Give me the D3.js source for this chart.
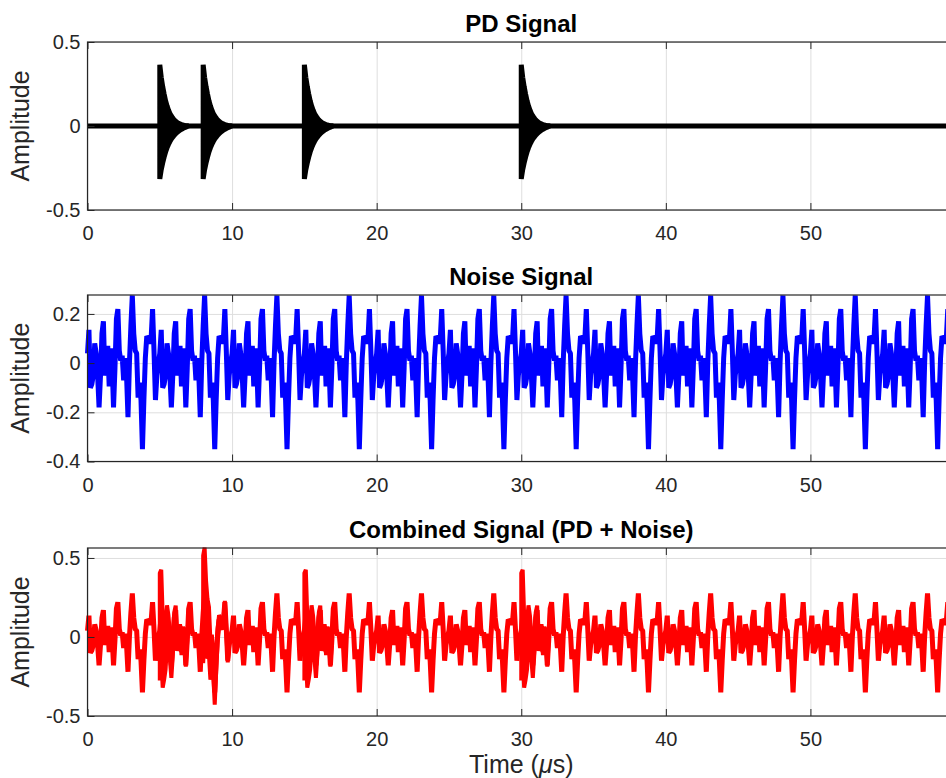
<!doctype html>
<html>
<head>
<script src="https://cdnjs.cloudflare.com/ajax/libs/d3/7.8.5/d3.min.js"></script>
<style>
  body { margin: 0; background: #ffffff; }
  text { font-family: "Liberation Sans", Arial, sans-serif; fill: #262626; }
  .axis text { font-size: 20px; fill: #262626; }
  .axis line { stroke: #262626; stroke-width: 1px; }
  .axis path { display: none; }
  .grid line { stroke: #dedede; stroke-width: 1px; }
  .grid path { display: none; }
  .box { fill: none; stroke: #262626; stroke-width: 1.2px; }
  .title { font-size: 24px; font-weight: bold; text-anchor: middle; fill: #000000; }
  .label { font-size: 25px; text-anchor: middle; }
</style>
</head>
<body>
<svg id="fig" width="946" height="778"></svg>
<script>
// one 5 us cycle of the noise, every 0.1 us (it repeats)
var noiseStep = 0.1;
var noiseCycle = [0.04, 0.135, -0.10, -0.085, -0.05, 0.08, 0.04, -0.05, -0.18, -0.05,
                  0.12, 0.17, -0.05, -0.02, 0.07, -0.095, 0.06, 0.0, -0.18, -0.02,
                  0.18, 0.22, 0.05, 0.01, 0.03, -0.07, 0.02, -0.05, -0.22, 0.0,
                  0.15, 0.275, 0.12, 0.05, 0.04, -0.14, -0.08, -0.15, -0.35, -0.15,
                  0.02, 0.11, 0.10, 0.08, 0.10, 0.22, 0.05, -0.15, -0.05, 0.0];
var cycleCount = 12;

// PD pulses: start times (us) and the envelope of the decaying burst, every 0.1 us
var pulseStarts = [5, 8, 15, 30];
var envUpper = [0.365, 0.29, 0.235, 0.19, 0.15, 0.12, 0.095, 0.075, 0.06, 0.047, 0.036,
                0.028, 0.021, 0.016, 0.012, 0.009, 0.006, 0.004, 0.002, 0.001, 0];
var envLower = [-0.315, -0.26, -0.22, -0.185, -0.155, -0.13, -0.11, -0.093, -0.078, -0.066, -0.055,
                -0.046, -0.038, -0.031, -0.025, -0.02, -0.015, -0.011, -0.007, -0.003, 0];

var timeTicks = [0, 10, 20, 30, 40, 50];
var pdTicks = [-0.5, 0, 0.5];
var noiseTicks = [-0.4, -0.2, 0, 0.2];
var combTicks = [-0.5, 0, 0.5];

var svg = d3.select("#fig");
var left = 87.5, right = 955;

var x = d3.scaleLinear().domain([0, 60]).range([left, right]);

var panels = [
  {title: "PD Signal", top: 42, bottom: 210, domain: [-0.5, 0.5], ticks: pdTicks},
  {title: "Noise Signal", top: 295, bottom: 461.5, domain: [-0.4, 0.277], ticks: noiseTicks},
  {title: "Combined Signal (PD + Noise)", top: 548, bottom: 716, domain: [-0.5, 0.563], ticks: combTicks}
];

// build the series
var noise = [];
for (var k = 0; k <= cycleCount * noiseCycle.length; k++) {
  noise.push({t: k * noiseStep, v: noiseCycle[k % noiseCycle.length]});
}

var bursts = pulseStarts.map(function(p) {
  var i0 = Math.round(p / noiseStep);
  return envUpper.map(function(u, j) {
    return {t: p + j * noiseStep, up: u, dn: envLower[j], n: noise[i0 + j].v};
  });
});

function drawPanel(pn) {
  var y = d3.scaleLinear().domain(pn.domain).range([pn.bottom, pn.top]);
  var h = pn.bottom - pn.top;
  var g = svg.append("g");

  g.append("g").attr("class", "grid")
    .attr("transform", "translate(0," + pn.bottom + ")")
    .call(d3.axisBottom(x).tickValues(timeTicks).tickSize(-h).tickFormat(""));
  g.append("g").attr("class", "grid")
    .attr("transform", "translate(" + left + ",0)")
    .call(d3.axisLeft(y).tickValues(pn.ticks).tickSize(-(right - left)).tickFormat(""));

  g.append("text").attr("class", "title")
    .attr("x", (left + right) / 2).attr("y", pn.top - 10)
    .text(pn.title);

  g.append("text").attr("class", "label")
    .attr("transform", "translate(29," + (pn.top + pn.bottom) / 2 + ") rotate(-90)")
    .text("Amplitude");

  return {g: g, y: y};
}

function drawAxes(pn, y) {
  var g = svg.append("g");
  g.append("rect").attr("class", "box")
    .attr("x", left).attr("y", pn.top)
    .attr("width", right - left).attr("height", pn.bottom - pn.top);
  g.append("g").attr("class", "axis")
    .attr("transform", "translate(0," + pn.bottom + ")")
    .call(d3.axisBottom(x).tickValues(timeTicks).tickSizeInner(-7).tickSizeOuter(0)
      .tickPadding(16).tickFormat(d3.format("d")));
  g.append("g").attr("class", "axis")
    .attr("transform", "translate(0," + pn.top + ")")
    .call(d3.axisTop(x).tickValues(timeTicks).tickSizeInner(-7).tickSizeOuter(0).tickFormat(""));
  g.append("g").attr("class", "axis")
    .attr("transform", "translate(" + left + ",0)")
    .call(d3.axisLeft(y).tickValues(pn.ticks).tickSizeInner(-7).tickSizeOuter(0)
      .tickPadding(7).tickFormat(function(d) { return String(d); }));
}

// PD signal
var p1 = drawPanel(panels[0]);
p1.g.append("path")
  .datum([0, 60])
  .attr("d", d3.line().x(function(d) { return x(d); }).y(p1.y(0)))
  .attr("stroke", "#000000").attr("stroke-width", 5).attr("fill", "none");
bursts.forEach(function(b) {
  p1.g.append("path")
    .datum(b)
    .attr("d", d3.area()
      .x(function(d) { return x(d.t); })
      .y0(function(d) { return p1.y(d.dn); })
      .y1(function(d) { return p1.y(d.up); }))
    .attr("fill", "#000000").attr("stroke", "#000000")
    .attr("stroke-width", 5).attr("stroke-linejoin", "miter");
});
drawAxes(panels[0], p1.y);

// noise
var p2 = drawPanel(panels[1]);
p2.g.append("path")
  .datum(noise)
  .attr("d", d3.line().x(function(d) { return x(d.t); }).y(function(d) { return p2.y(d.v); }))
  .attr("stroke", "#0000ff").attr("stroke-width", 5).attr("stroke-linejoin", "bevel")
  .attr("fill", "none");
drawAxes(panels[1], p2.y);

// combined
var p3 = drawPanel(panels[2]);
p3.g.append("path")
  .datum(noise)
  .attr("d", d3.line().x(function(d) { return x(d.t); }).y(function(d) { return p3.y(d.v); }))
  .attr("stroke", "#ff0000").attr("stroke-width", 5).attr("stroke-linejoin", "bevel")
  .attr("fill", "none");
bursts.forEach(function(b) {
  p3.g.append("path")
    .datum(b)
    .attr("d", d3.area()
      .x(function(d) { return x(d.t); })
      .y0(function(d) { return p3.y(d.n + d.dn); })
      .y1(function(d) { return p3.y(d.n + d.up); }))
    .attr("fill", "#ff0000").attr("stroke", "#ff0000").attr("stroke-width", 4)
    .attr("stroke-linejoin", "bevel");
});
drawAxes(panels[2], p3.y);

var xl = svg.append("text").attr("class", "label")
  .attr("x", (left + right) / 2).attr("y", 773);
xl.append("tspan").text("Time (");
xl.append("tspan").attr("font-style", "italic").text("\u03bc");
xl.append("tspan").text("s)");
</script>
</body>
</html>
